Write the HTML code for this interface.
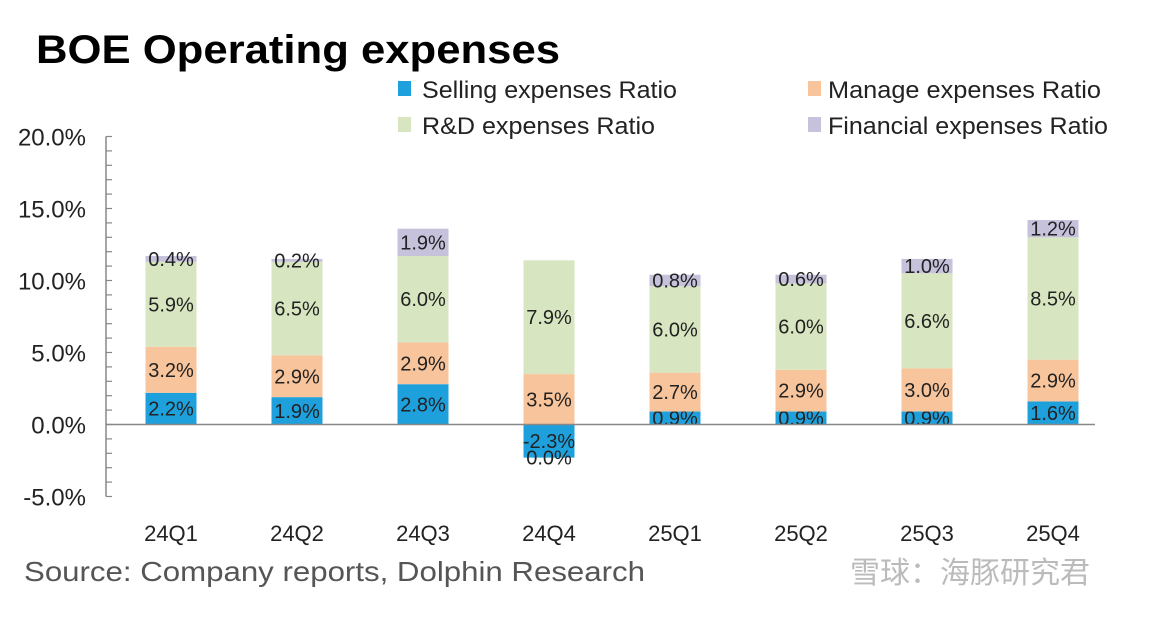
<!DOCTYPE html>
<html><head><meta charset="utf-8">
<style>
body{margin:0;background:#fff;width:1156px;height:612px;overflow:hidden;font-family:"Liberation Sans","Noto Sans CJK SC",sans-serif;}
svg text{font-family:"Liberation Sans","Noto Sans CJK SC",sans-serif;}
</style></head>
<body>
<svg id="chart" width="1156" height="612" viewBox="0 0 1156 612" xmlns="http://www.w3.org/2000/svg">
<text x="36" y="63" font-size="40" font-weight="bold" fill="#000" textLength="524" lengthAdjust="spacingAndGlyphs">BOE Operating expenses</text>
<g>
<rect x="398" y="81" width="13" height="15" fill="#1ea0dc"/>
<text x="422" y="98" font-size="24" fill="#222" textLength="255" lengthAdjust="spacingAndGlyphs">Selling expenses Ratio</text>
<rect x="808" y="81" width="13" height="15" fill="#f8c49b"/>
<text x="828" y="98" font-size="24" fill="#222" textLength="273" lengthAdjust="spacingAndGlyphs">Manage expenses Ratio</text>
<rect x="398" y="117" width="13" height="15" fill="#d7e6c0"/>
<text x="422" y="134" font-size="24" fill="#222" textLength="233" lengthAdjust="spacingAndGlyphs">R&amp;D expenses Ratio</text>
<rect x="808" y="117" width="13" height="15" fill="#c6c2dc"/>
<text x="828" y="134" font-size="24" fill="#222" textLength="280" lengthAdjust="spacingAndGlyphs">Financial expenses Ratio</text>
</g>
<g id="plot"></g>
<text x="24" y="581" font-size="28" fill="#555" textLength="621" lengthAdjust="spacingAndGlyphs">Source: Company reports, Dolphin Research</text>
<text x="850" y="583" font-size="30" fill="#bbb">雪球：海豚研究君</text>
</svg>
<script>
const categories=["24Q1","24Q2","24Q3","24Q4","25Q1","25Q2","25Q3","25Q4"];
const selling=[2.2,1.9,2.8,-2.3,0.9,0.9,0.9,1.6];
const manage=[3.2,2.9,2.9,3.5,2.7,2.9,3.0,2.9];
const rd=[5.9,6.5,6.0,7.9,6.0,6.0,6.6,8.5];
const financial=[0.4,0.2,1.9,0.0,0.8,0.6,1.0,1.2];
const yTicks=[-5,0,5,10,15,20];
const NS="http://www.w3.org/2000/svg";
const g=document.getElementById('plot');
const y0=424.5,perPct=14.4,axisX=106,x0=171,step=126,bw=51;
const Y=v=>y0-v*perPct;
const X=i=>x0+i*step;
function mk(t,a){const e=document.createElementNS(NS,t);for(const k in a)e.setAttribute(k,a[k]);g.appendChild(e);return e;}
let ax=mk('line',{x1:axisX,x2:axisX,y1:Y(20),y2:Y(-5),stroke:'#888','stroke-width':1.5});


for(let v=-5;v<=20;v++){
 let t=mk('line',{x1:axisX,x2:axisX+6,y1:Y(v),y2:Y(v),stroke:'#888','stroke-width':1.2});
 
 
}
yTicks.forEach(v=>{
 let t=mk('text',{x:86,y:Y(v)+9,'font-size':24,'text-anchor':'end',fill:'#222'});
 t.textContent=v.toFixed(1)+'%';
 
 
});
const series=[[selling,'#1ea0dc','selling'],[manage,'#f8c49b','manage'],[rd,'#d7e6c0','rd'],[financial,'#c6c2dc','financial']];
categories.forEach((c,i)=>{
 let pos=0,neg=0;
 series.forEach(([arr,col,nm],si)=>{
  const v=arr[i];let top,bot;
  if(v>=0){bot=pos;top=pos+v;pos=top;}else{top=neg;bot=neg+v;neg=bot;}
  const r=mk('rect',{x:X(i)-bw/2,y:Y(top),width:bw,height:Math.max(0,Y(bot)-Y(top)),fill:col});
  
  
  let ly=(Y(top)+Y(bot))/2+7;
  if(v===0) ly=Y(neg)+7;
  const t=mk('text',{x:X(i),y:ly,'font-size':20,'text-anchor':'middle',fill:'#222'});
  t.textContent=v.toFixed(1)+'%';
  
  
 });
 const t=mk('text',{x:X(i),y:541,'font-size':22,'text-anchor':'middle',fill:'#222'});
 t.textContent=c;
 
 
});
let zl=mk('line',{x1:axisX,x2:1095,y1:y0,y2:y0,stroke:'#888','stroke-width':1.5});


</script>
</body></html>
